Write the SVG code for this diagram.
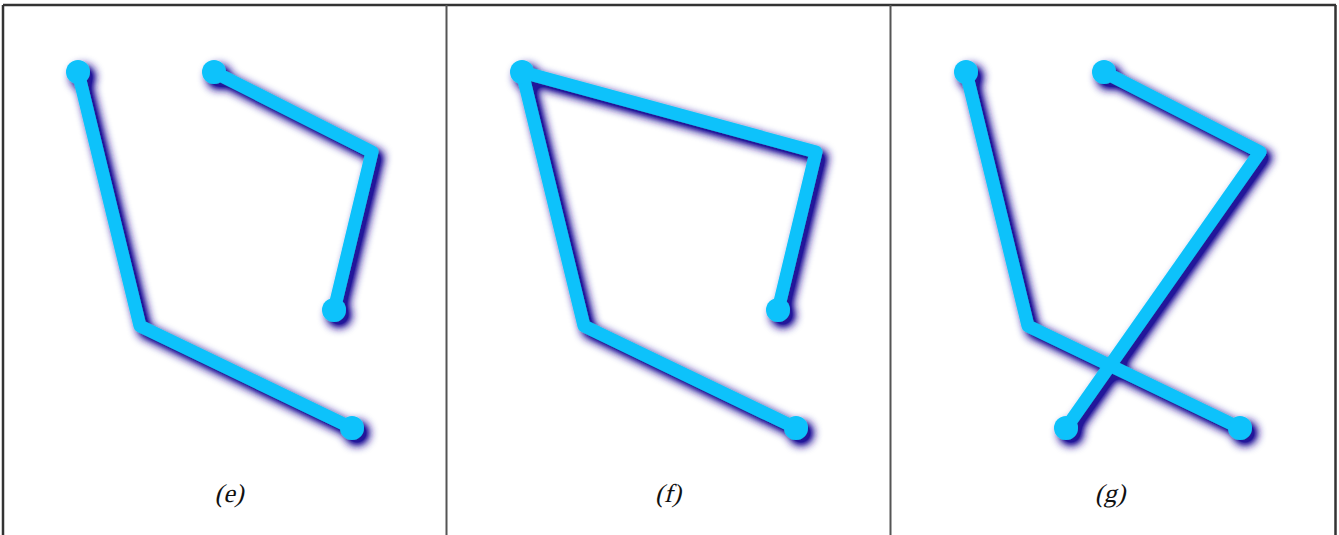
<svg xmlns="http://www.w3.org/2000/svg" width="1339" height="535" viewBox="0 0 1339 535">
<style>
.ln{fill:none;stroke:#0cc2fb;stroke-width:13;stroke-linejoin:round;stroke-linecap:round}
.dot{fill:#0cc2fb}
.frame{stroke:#333;stroke-width:2.5;fill:none}
.div{stroke:#555;stroke-width:2}
</style>
<defs>
<filter id="sh" x="-20%" y="-20%" width="140%" height="140%">
<feGaussianBlur in="SourceAlpha" stdDeviation="5" result="b"/>
<feOffset in="b" dx="5" dy="5" result="o"/>
<feComponentTransfer in="o" result="o2"><feFuncA type="linear" slope="1.5"/></feComponentTransfer>
<feFlood flood-color="#24159a" result="c"/>
<feComposite in="c" in2="o2" operator="in" result="s"/>
<feMerge><feMergeNode in="s"/><feMergeNode in="SourceGraphic"/></feMerge>
</filter>
</defs>
<rect width="1339" height="535" fill="#fff"/>
<g id="frame">
<line class="frame" x1="3" y1="5" x2="1336" y2="5"/>
<line class="frame" x1="3" y1="5" x2="3" y2="535"/>
<line class="frame" x1="1335.5" y1="5" x2="1335.5" y2="535"/>
<line class="div" x1="446.5" y1="5" x2="446.5" y2="535"/>
<line class="div" x1="890.5" y1="5" x2="890.5" y2="535"/>
</g>
<g id="panel-e" filter="url(#sh)">
<polyline class="ln" points="78,72 140,326 352,428"/>
<polyline class="ln" points="214,72 372,152 334,310"/>
<circle class="dot" cx="78" cy="72" r="12"/>
<circle class="dot" cx="352" cy="428" r="12"/>
<circle class="dot" cx="214" cy="72" r="12"/>
<circle class="dot" cx="334" cy="310" r="12"/>
</g>
<g id="panel-f" filter="url(#sh)">
<polyline class="ln" points="796,428 584,326 522,72 816,152 778,310"/>
<circle class="dot" cx="522" cy="72" r="12"/>
<circle class="dot" cx="796" cy="428" r="12"/>
<circle class="dot" cx="778" cy="310" r="12"/>
</g>
<g id="panel-g" filter="url(#sh)">
<polyline class="ln" points="966,72 1028,326 1240,428"/>
<polyline class="ln" points="1104,72 1260,152 1066,428"/>
<circle class="dot" cx="966" cy="72" r="12"/>
<circle class="dot" cx="1240" cy="428" r="12"/>
<circle class="dot" cx="1104" cy="72" r="12"/>
<circle class="dot" cx="1066" cy="428" r="12"/>
</g>
<g id="labels" font-family="'Liberation Serif', 'DejaVu Serif', serif" font-size="26" fill="#111" text-anchor="middle">
<text transform="translate(229,502) skewX(-14)">(e)</text>
<text transform="translate(668,502) skewX(-14)">(f)</text>
<text transform="translate(1110,502) skewX(-14)">(g)</text>
</g>
</svg>
